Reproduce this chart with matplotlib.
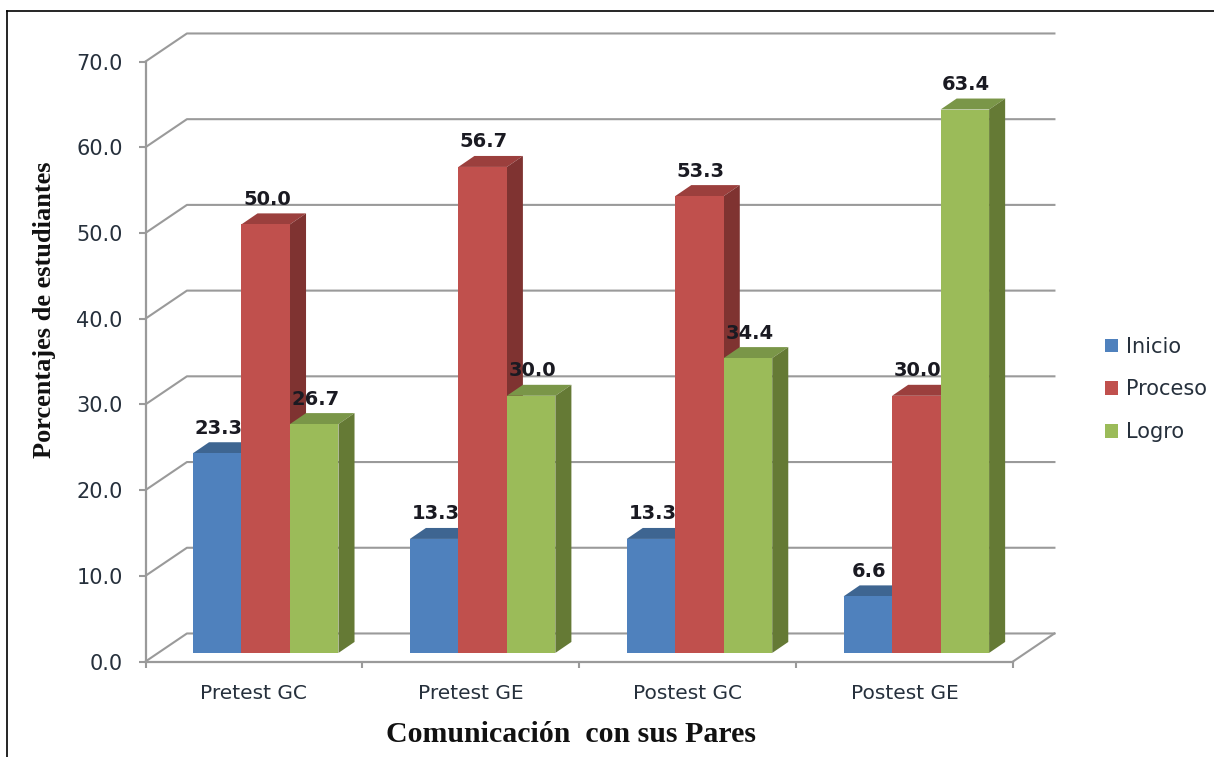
import matplotlib
matplotlib.use('Agg')
import matplotlib.pyplot as plt
from matplotlib.lines import Line2D
from matplotlib.patches import Patch

W, H = 1214, 757

categories = ['Pretest GC', 'Pretest GE', 'Postest GC', 'Postest GE']
series_names = ['Inicio', 'Proceso', 'Logro']
inicio = [23.3, 13.3, 13.3, 6.6]
proceso = [50.0, 56.7, 53.3, 30.0]
logro = [26.7, 30.0, 34.4, 63.4]
yticks = [0, 10, 20, 30, 40, 50, 60, 70]

front_colors = ['#4F81BD', '#C0504D', '#9BBB59']
top_colors = ['#3E6591', '#9B3F3D', '#7A9648']
side_colors = ['#385D8A', '#7F3331', '#657A35']
GRID = '#9a9a9a'
TXT = '#26303c'

# perspective offsets, in data units
WALL_DX, WALL_DY = 0.191, 3.27
BAR_DX, BAR_DY = 0.074, 1.28
BAR_W = 0.2236
BAR_START = 0.219
BAR_BASE = 1.0

fig = plt.figure(figsize=(W / 100, H / 100), dpi=100, facecolor='white')
ax = fig.add_axes([145.5 / W, 1 - 661.5 / H, (1013 - 145.5) / W, 600 / H])
ax.set_xlim(0, len(categories))
ax.set_ylim(0, 70)
ax.patch.set_visible(False)

for s in ['top', 'right']:
    ax.spines[s].set_visible(False)
for s in ['left', 'bottom']:
    ax.spines[s].set_color(GRID)
    ax.spines[s].set_linewidth(1.6)

# back wall and floor
n = len(categories)
for v in yticks:
    ax.plot([0, WALL_DX, n + WALL_DX], [v, v + WALL_DY, v + WALL_DY],
            color=GRID, lw=1.5, clip_on=False, zorder=1)
ax.plot([n, n + WALL_DX], [0, WALL_DY], color=GRID, lw=1.5, clip_on=False, zorder=1)

ax.set_yticks(yticks)
ax.set_yticklabels([f'{v:.1f}' for v in yticks], fontsize=15, color=TXT)
ax.set_xticks(range(n + 1))
ax.set_xticks([i + 0.5 for i in range(n)], minor=True)
ax.set_xticklabels([])
ax.set_xticklabels(categories, minor=True, fontsize=14.5, color=TXT)
ax.tick_params(axis='y', length=5, width=1.5, color=GRID, pad=11.5)
ax.tick_params(axis='x', which='major', length=4.5, width=1.5, color=GRID)
ax.tick_params(axis='x', which='minor', length=0, pad=16.5)

z = 3
for k, vals in enumerate([inicio, proceso, logro]):
    for i, v in enumerate(vals):
        x0 = i + BAR_START + k * BAR_W
        x1 = x0 + BAR_W
        y0 = BAR_BASE
        y1 = BAR_BASE + v
        ax.fill([x0, x1, x1 + BAR_DX, x0 + BAR_DX], [y1, y1, y1 + BAR_DY, y1 + BAR_DY],
                color=top_colors[k], lw=0, clip_on=False, zorder=z)
        ax.fill([x1, x1 + BAR_DX, x1 + BAR_DX, x1], [y0, y0 + BAR_DY, y1 + BAR_DY, y1],
                color=side_colors[k], lw=0, clip_on=False, zorder=z)
        ax.bar(x0, v, width=BAR_W, bottom=y0, align='edge', color=front_colors[k],
               lw=0, clip_on=False, zorder=z + 1)
        ax.annotate(f'{v:.1f}', (x0 + BAR_W / 2, y1), xytext=(1, 18),
                    textcoords='offset points', ha='center', va='center',
                    fontsize=14, fontweight='bold', color='#1a1a22',
                    annotation_clip=False, zorder=20)
    z += 2

handles = [Patch(facecolor=c, edgecolor='none') for c in front_colors]
fig.legend(handles, series_names, loc='center left', bbox_to_anchor=(1105 / W, 1 - 389.5 / H),
           frameon=False, fontsize=15, labelcolor=TXT, handlelength=0.62, handleheight=0.62,
           handletextpad=0.38, labelspacing=1.09, borderpad=0, borderaxespad=0)

fig.text(571 / W, 1 - 735 / H, 'Comunicación  con sus Pares', ha='center', va='center',
         fontsize=21.5, fontweight='bold', family='Liberation Serif', color='#111111')
fig.text(45 / W, 1 - 310 / H, 'Porcentajes de estudiantes', ha='center', va='center',
         rotation=90, fontsize=19, fontweight='bold', family='Liberation Serif', color='#111111')

# picture border, left and top only
fig.add_artist(Line2D([7 / W, 7 / W], [0, 1 - 11 / H], color='black', lw=1.2))
fig.add_artist(Line2D([7 / W, 1], [1 - 11 / H, 1 - 11 / H], color='black', lw=1.2))

fig.savefig('out.png', dpi=100)
